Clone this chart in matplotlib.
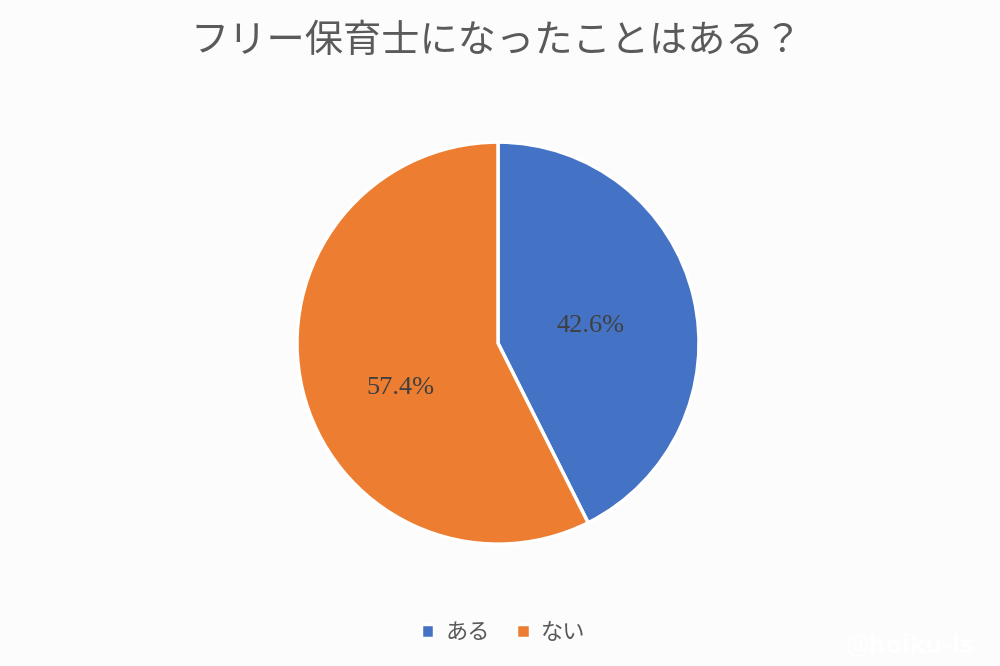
import matplotlib.pyplot as plt

# data
labels = ['ある', 'ない']
values = [42.6, 57.4]
colors = ['#4472C4', '#ED7D31']
title = 'フリー保育士になったことはある？'
# label offsets (fraction of radius), as Excel's best-fit places them
label_pos = [(0.458, 0.085), (-0.488, -0.224)]

plt.rcParams['font.family'] = ['Noto Sans CJK JP', 'DejaVu Sans']

fig = plt.figure(figsize=(10, 6.66), dpi=100, facecolor='#fcfcfc')
ax = fig.add_axes([0.297, 0.183, 0.402, 0.6036])

wedges, texts, autotexts = ax.pie(values, colors=colors, startangle=90, counterclock=False,
                                  radius=1, autopct='%.1f%%', pctdistance=0.5,
                                  wedgeprops={'edgecolor': 'white', 'linewidth': 2.5})
for t, pos in zip(autotexts, label_pos):
    t.set_position(pos)
    t.set_fontfamily(['Liberation Serif', 'DejaVu Serif'])
    t.set_fontsize(19)
    t.set_color('#404040')
ax.set_xlim(-1, 1)
ax.set_ylim(-1, 1)

fig.text(0.496, 0.937, title, ha='center', va='center', fontsize=27.5, color='#5a5a5a')

fig.legend(wedges, labels, loc='center', bbox_to_anchor=(0.503, 0.051), ncol=2, frameon=False,
           handlelength=0.6, handleheight=0.6, handletextpad=0.5, columnspacing=1.2,
           prop={'size': 16}, labelcolor='#595959')

# faint watermark
fig.text(0.91, 0.03, '@hoiku-ls', ha='center', va='center', fontsize=17, color='white',
         fontweight='bold', family='DejaVu Sans')

fig.savefig('out.png', facecolor=fig.get_facecolor())
